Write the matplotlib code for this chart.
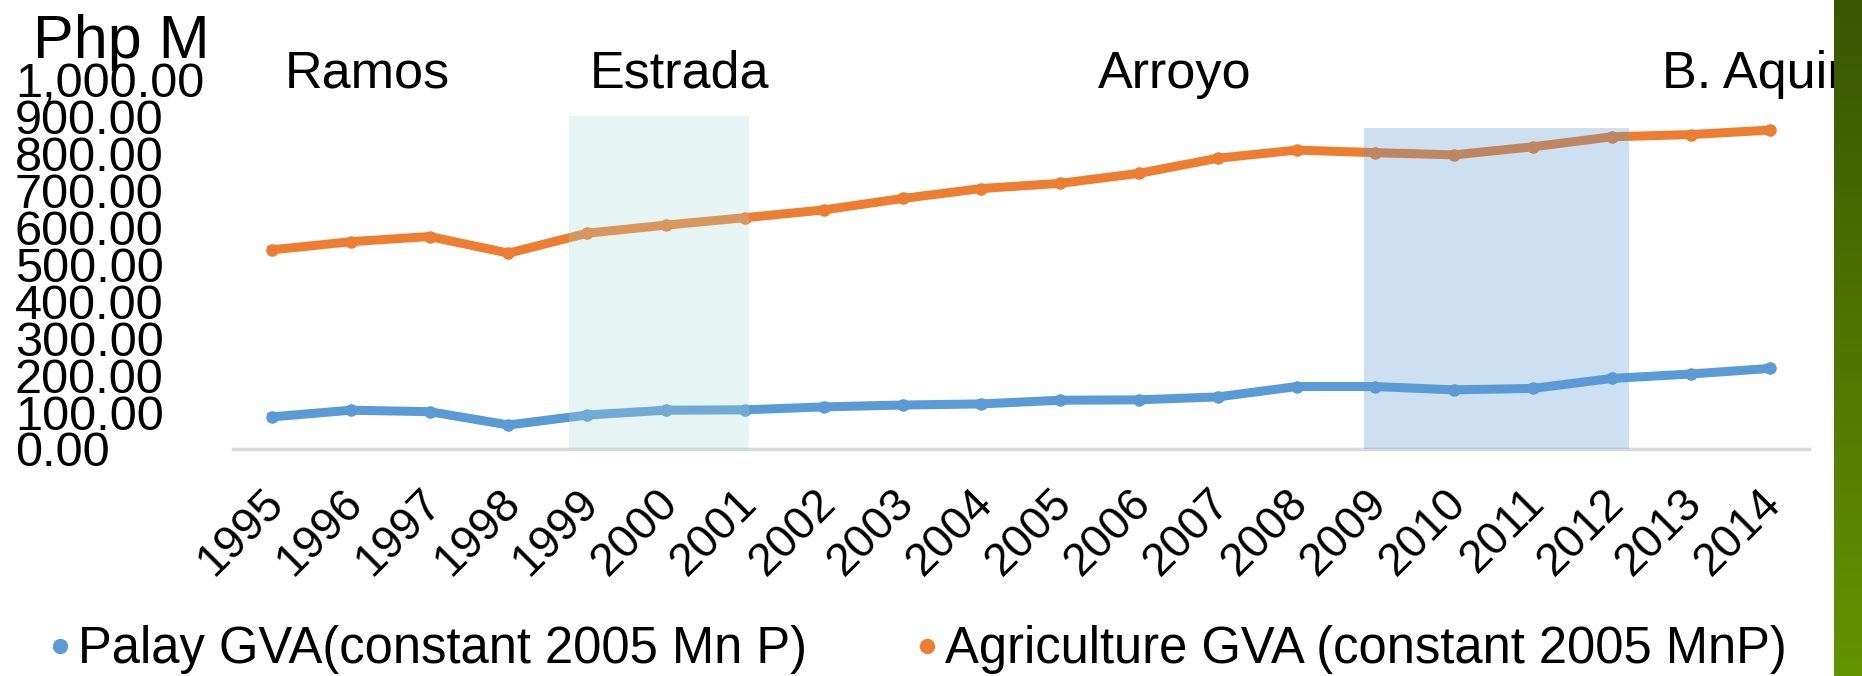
import matplotlib

matplotlib.use("Agg")
import matplotlib.pyplot as plt
import numpy as np
from matplotlib import font_manager
from matplotlib.colors import LinearSegmentedColormap
from matplotlib.lines import Line2D
from matplotlib.patches import Rectangle
from matplotlib.transforms import ScaledTranslation

# --- data ---
years = list(range(1995, 2015))
palay_gva = [87, 105, 101, 65, 92, 105, 106, 114, 119, 122,
             132, 133, 141, 169, 169, 160, 164, 191, 203, 218]
agri_gva = [539, 561, 575, 530, 584, 606, 626, 647, 678, 705,
            719, 746, 787, 809, 802, 796, 818, 845, 851, 863]
y_ticks = [0, 100, 200, 300, 400, 500, 600, 700, 800, 900, 1000]
series_labels = ["Palay GVA(constant 2005 Mn P)", "Agriculture GVA (constant 2005 MnP)"]
presidents = ["Ramos", "Estrada", "Arroyo", "B. Aquino"]
# shaded administrations: (start, end, top)
estrada_span = (1998.77, 2001.05, 900)
aquino_span = (2008.86, 2012.22, 870)

BLUE = "#5b9bd5"
ORANGE = "#ed7d31"

installed = {f.name for f in font_manager.fontManager.ttflist}
MAIN_FONT = "Liberation Sans" if "Liberation Sans" in installed else "DejaVu Sans"
plt.rcParams["font.family"] = [MAIN_FONT, "DejaVu Sans"]

W, H = 1862, 676
fig = plt.figure(figsize=(W / 100, H / 100), dpi=100)
fig.patch.set_facecolor("white")

ax_left, ax_right = 232.6 / W, 1809 / W
ax_bottom, ax_top = (H - 449) / H, (H - 79.5) / H
ax = fig.add_axes([ax_left, ax_bottom, ax_right - ax_left, ax_top - ax_bottom])

ax.plot(years, palay_gva, color=BLUE, lw=6.5, marker="o", markersize=8, solid_joinstyle="round", zorder=3)
ax.plot(years, agri_gva, color=ORANGE, lw=6.5, marker="o", markersize=8, solid_joinstyle="round", zorder=3)

# shaded boxes drawn over the lines, semi transparent
x0, x1, top = estrada_span
ax.add_patch(Rectangle((x0, 0), x1 - x0, top, facecolor="#a6d8d8", alpha=0.28, lw=0, zorder=4))
x0, x1, top = aquino_span
ax.add_patch(Rectangle((x0, 0), x1 - x0, top, facecolor=BLUE, alpha=0.3, lw=0, zorder=4))

ax.set_xlim(1994.5, 2014.5)
ax.set_ylim(0, 1000)
for side in ["top", "right", "left"]:
    ax.spines[side].set_visible(False)
ax.spines["bottom"].set_color("#d9d9d9")
ax.spines["bottom"].set_linewidth(2.5)
ax.tick_params(length=0)

# y tick labels: left aligned in a column at the far left
ax.set_yticks(y_ticks)
ax.set_yticklabels([f"{v:,.2f}" for v in y_ticks], fontsize=35)
pad_pt = (232.6 - 15) * 0.72
ax.tick_params(axis="y", pad=pad_pt)
for lab in ax.get_yticklabels():
    lab.set_horizontalalignment("left")

# x tick labels rotated 45
ax.set_xticks(years)
ax.set_xticklabels([str(y) for y in years], fontsize=33, rotation=45,
                   ha="right", va="center", rotation_mode="anchor")
ax.tick_params(axis="x", pad=34)
shift = ScaledTranslation(5 / 100, 0, fig.dpi_scale_trans)
for lab in ax.get_xticklabels():
    lab.set_transform(lab.get_transform() + shift)

# unit label and administration names
fig.text(33 / W, (H - 58) / H, "Php M", fontsize=44, ha="left", va="baseline")
name_x = [285, 590, 1098, 1662]
for name, px in zip(presidents, name_x):
    fig.text(px / W, (H - 88) / H, name, fontsize=37.5, ha="left", va="baseline")

# legend, one entry each so they line up with the reference
legend_x = [50, 917]
colors = [BLUE, ORANGE]
for label, color, px in zip(series_labels, colors, legend_x):
    handle = Line2D([0], [0], marker="o", color=color, ls="none", markersize=10)
    fig.legend([handle], [label], loc="center left", bbox_to_anchor=(px / W, (H - 650) / H),
               frameon=False, handlelength=0.4, handletextpad=0.15,
               fontsize=36.5, borderpad=0, borderaxespad=0)

# green strip on the right edge (slide decoration)
gax = fig.add_axes([1834 / W, 0, 1 - 1834 / W, 1])
gax.set_zorder(10)
green = LinearSegmentedColormap.from_list("g", ["#3a5600", "#629400"])
gax.imshow(np.linspace(0, 1, 256).reshape(-1, 1), aspect="auto", cmap=green)
gax.axis("off")

fig.savefig("out.png", dpi=100)
plt.close(fig)
